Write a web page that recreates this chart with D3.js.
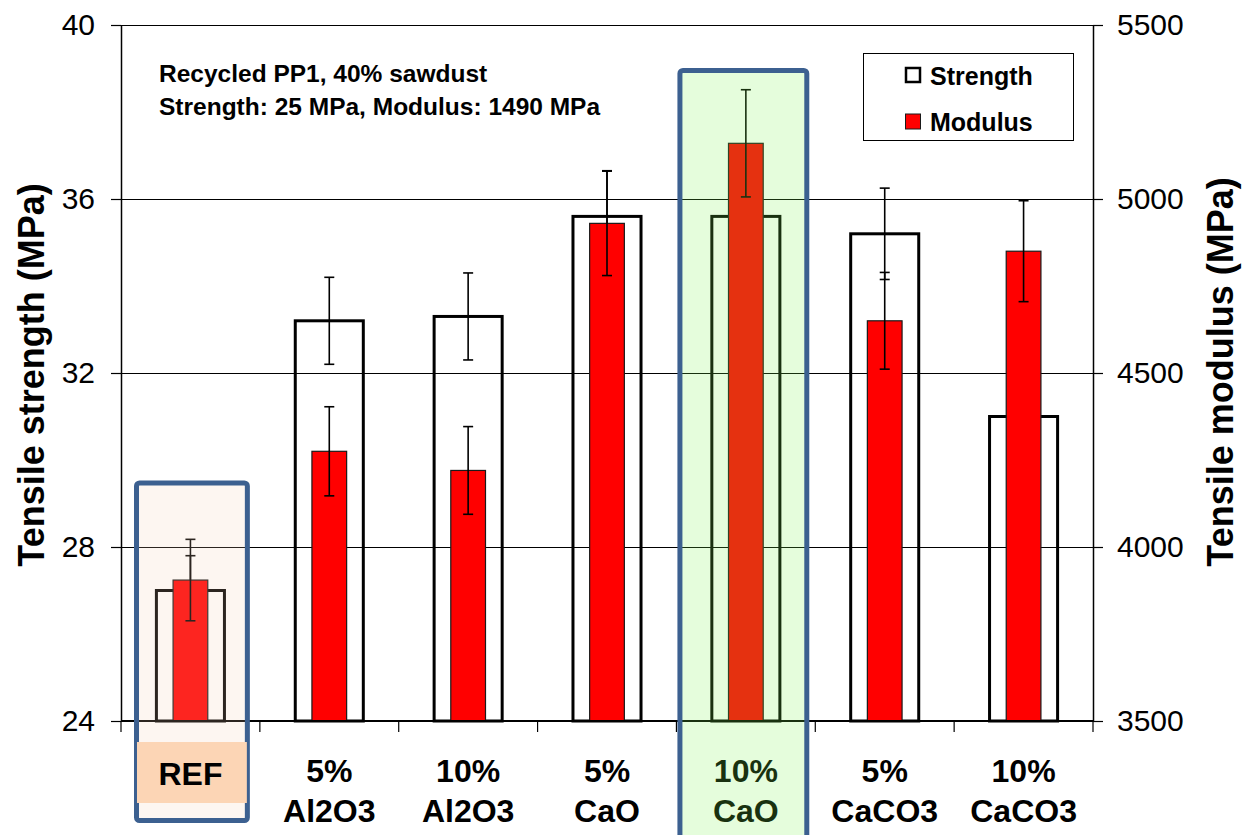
<!DOCTYPE html>
<html>
<head>
<meta charset="utf-8">
<script src="https://cdn.jsdelivr.net/npm/d3@7"></script>
<style>
  html, body { margin: 0; padding: 0; background: #fff; }
  svg { display: block; font-family: "Liberation Sans", Arial, sans-serif; }
</style>
</head>
<body>
<svg id="chart" width="1243" height="835"></svg>
<script>
// Filler compositions
const categories = ["REF", "5% Al2O3", "10% Al2O3", "5% CaO", "10% CaO", "5% CaCO3", "10% CaCO3"];
const categoryLines = [["REF"], ["5%", "Al2O3"], ["10%", "Al2O3"], ["5%", "CaO"], ["10%", "CaO"], ["5%", "CaCO3"], ["10%", "CaCO3"]];

// Tensile strength (MPa) with standard deviation
const strength    = [27.0, 33.2, 33.3, 35.6, 35.6, 35.2, 31.0];
const strengthErr = [0.8, 1.0, 1.0, 1.05, 1.0, 1.05, 1.0];

// Tensile modulus (MPa) with standard deviation
const modulus    = [3905, 4275, 4220, 4930, 5160, 4650, 4850];
const modulusErr = [117, 128, 126, 150, 154, 139, 145];

const strengthTicks = [24, 28, 32, 36, 40];
const modulusTicks  = [3500, 4000, 4500, 5000, 5500];

const noteLines = ["Recycled PP1, 40% sawdust", "Strength: 25 MPa, Modulus: 1490 MPa"];

(function () {
const rows = categories.map((c, i) => ({
  cat: c, lines: categoryLines[i],
  s: strength[i], se: strengthErr[i],
  m: modulus[i], me: modulusErr[i]
}));

const svg = d3.select("#chart");
const plotL = 121, plotR = 1093, plotT = 25, plotB = 721;

const x = d3.scaleBand().domain(categories).range([plotL, plotR]).padding(0);
const yL = d3.scaleLinear().domain([24, 40]).range([plotB, plotT]);
const yR = d3.scaleLinear().domain([3500, 5500]).range([plotB, plotT]);

const sW = x.bandwidth() * 0.49;
const mW = x.bandwidth() * 0.25;
const cx = c => x(c) + x.bandwidth() / 2;

// Horizontal gridlines
svg.append("g").selectAll("line")
  .data(strengthTicks.slice(1))
  .join("line")
  .attr("x1", plotL).attr("x2", plotR)
  .attr("y1", d => Math.round(yL(d)) + 0.5).attr("y2", d => Math.round(yL(d)) + 0.5)
  .attr("stroke", "#000").attr("stroke-width", 1.2);

// Strength bars (outline only)
svg.append("g").selectAll("rect")
  .data(rows)
  .join("rect")
  .attr("x", d => cx(d.cat) - sW / 2)
  .attr("width", sW)
  .attr("y", d => yL(d.s))
  .attr("height", d => yL(24) - yL(d.s))
  .attr("fill", "none")
  .attr("stroke", "#000")
  .attr("stroke-width", 3);

// Error bar helper
function errorBars(g, data, val, err, scale) {
  const cap = 5;
  const eg = g.selectAll("g").data(data).join("g")
    .attr("stroke", "#000").attr("stroke-width", 1.6);
  eg.append("line")
    .attr("x1", d => cx(d.cat)).attr("x2", d => cx(d.cat))
    .attr("y1", d => scale(val(d) + err(d)))
    .attr("y2", d => scale(val(d) - err(d)));
  eg.append("line")
    .attr("x1", d => cx(d.cat) - cap).attr("x2", d => cx(d.cat) + cap)
    .attr("y1", d => scale(val(d) + err(d))).attr("y2", d => scale(val(d) + err(d)));
  eg.append("line")
    .attr("x1", d => cx(d.cat) - cap).attr("x2", d => cx(d.cat) + cap)
    .attr("y1", d => scale(val(d) - err(d))).attr("y2", d => scale(val(d) - err(d)));
}

errorBars(svg.append("g"), rows, d => d.s, d => d.se, yL);

// Modulus bars (secondary axis)
svg.append("g").selectAll("rect")
  .data(rows)
  .join("rect")
  .attr("x", d => cx(d.cat) - mW / 2)
  .attr("width", mW)
  .attr("y", d => yR(d.m))
  .attr("height", d => yR(3500) - yR(d.m))
  .attr("fill", "#ff0000")
  .attr("stroke", "#1a1a1a")
  .attr("stroke-width", 1.2);

errorBars(svg.append("g"), rows, d => d.m, d => d.me, yR);

// Left axis
const axL = svg.append("g")
  .attr("transform", `translate(${plotL},0)`)
  .call(d3.axisLeft(yL).tickValues(strengthTicks).tickSize(10).tickPadding(16).tickSizeOuter(0));
axL.select(".domain").attr("stroke", "#000").attr("stroke-width", 1.5);
axL.selectAll(".tick line").attr("stroke", "#000").attr("stroke-width", 1.2);
axL.selectAll(".tick text")
  .attr("font-size", 30).attr("font-family", "Liberation Sans, Arial, sans-serif").attr("fill", "#000");

// Right axis
const axR = svg.append("g")
  .attr("transform", `translate(${plotR},0)`)
  .call(d3.axisRight(yR).tickValues(modulusTicks).tickFormat(d3.format("d"))
    .tickSize(10).tickPadding(14).tickSizeOuter(0));
axR.select(".domain").attr("stroke", "#000").attr("stroke-width", 1.5);
axR.selectAll(".tick line").attr("stroke", "#000").attr("stroke-width", 1.2);
axR.selectAll(".tick text")
  .attr("font-size", 30).attr("font-family", "Liberation Sans, Arial, sans-serif").attr("fill", "#000");

// Category axis: baseline and boundary ticks
svg.append("line")
  .attr("x1", plotL).attr("x2", plotR).attr("y1", plotB).attr("y2", plotB)
  .attr("stroke", "#000").attr("stroke-width", 2);
const bounds = categories.map(c => x(c)).concat([plotR]);
svg.append("g").selectAll("line")
  .data(bounds).join("line")
  .attr("x1", d => d).attr("x2", d => d)
  .attr("y1", plotB).attr("y2", plotB + 11)
  .attr("stroke", "#000").attr("stroke-width", 1.2);

// Category labels
const lab = svg.append("g").selectAll("text")
  .data(rows.filter(d => d.cat !== "REF"))
  .join("text")
  .attr("text-anchor", "middle")
  .attr("font-size", 32).attr("font-weight", "bold").attr("fill", "#000");
lab.each(function(d) {
  const t = d3.select(this);
  d.lines.forEach((ln, k) => {
    t.append("tspan").attr("x", cx(d.cat)).attr("y", 782 + k * 40).text(ln);
  });
});

// Axis titles
svg.append("text")
  .attr("transform", `translate(44,375) rotate(-90)`)
  .attr("text-anchor", "middle")
  .attr("font-size", 36).attr("font-weight", "bold")
  .text("Tensile strength (MPa)");
svg.append("text")
  .attr("transform", `translate(1233,372) rotate(-90)`)
  .attr("text-anchor", "middle")
  .attr("font-size", 36).attr("font-weight", "bold")
  .text("Tensile modulus (MPa)");

// Material note
svg.append("g").selectAll("text")
  .data(noteLines).join("text")
  .attr("x", 159).attr("y", (d, i) => 82 + i * 33)
  .attr("font-size", 24.5).attr("font-weight", "bold")
  .text(d => d);

// Legend
const lg = svg.append("g");
lg.append("rect").attr("x", 863.5).attr("y", 53.5).attr("width", 210).attr("height", 87)
  .attr("fill", "#fff").attr("stroke", "#000").attr("stroke-width", 1);
lg.append("rect").attr("x", 906).attr("y", 68).attr("width", 14).attr("height", 14)
  .attr("fill", "#fff").attr("stroke", "#000").attr("stroke-width", 2.5);
lg.append("rect").attr("x", 905.5).attr("y", 114).attr("width", 15).attr("height", 15)
  .attr("fill", "#ff0000").attr("stroke", "#1a1a1a").attr("stroke-width", 1);
lg.append("text").attr("x", 930).attr("y", 85)
  .attr("font-size", 25).attr("font-weight", "bold").text("Strength");
lg.append("text").attr("x", 930).attr("y", 131)
  .attr("font-size", 25).attr("font-weight", "bold").text("Modulus");

// Highlight: reference composition
const refX0 = x("REF") + 15.5, refX1 = x("REF") + x.bandwidth() - 12.5;
svg.append("rect")
  .attr("x", refX0).attr("y", 483).attr("width", refX1 - refX0).attr("height", 337.5)
  .attr("rx", 3)
  .attr("fill", "rgb(245,205,175)").attr("fill-opacity", 0.18)
  .attr("stroke", "#3c6090").attr("stroke-width", 5);
svg.append("rect")
  .attr("x", refX0 + 0.5).attr("y", 742).attr("width", refX1 - refX0 - 1).attr("height", 61)
  .attr("fill", "#fcd5b5");
svg.append("text")
  .attr("x", cx("REF")).attr("y", 785)
  .attr("text-anchor", "middle")
  .attr("font-size", 32).attr("font-weight", "bold").attr("fill", "#000")
  .text("REF");

// Highlight: best composition
const hiX0 = x("10% CaO") + 3.5, hiX1 = x("10% CaO") + x.bandwidth() - 8.5;
svg.append("rect")
  .attr("x", hiX0).attr("y", 70.5).attr("width", hiX1 - hiX0).attr("height", 800)
  .attr("rx", 3)
  .attr("fill", "rgb(127,245,82)").attr("fill-opacity", 0.2)
  .attr("stroke", "#3c6090").attr("stroke-width", 5);
})();
</script>
</body>
</html>
